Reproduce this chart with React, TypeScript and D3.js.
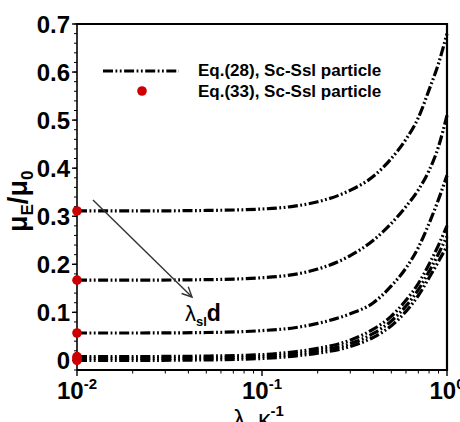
import * as d3 from "d3"

// lambda_el * kappa^-1 sample points
const xs = [0.01, 0.02, 0.05, 0.1, 0.15, 0.2, 0.3, 0.4, 0.5, 0.6, 0.7, 0.8, 0.9, 1.0]

// Eq.(28) curves, one per lambda_sl*d
const eq28a = [0.311, 0.311, 0.312, 0.315, 0.321, 0.33, 0.354, 0.383, 0.42, 0.46, 0.505, 0.563, 0.618, 0.68]
const eq28b = [0.167, 0.167, 0.168, 0.172, 0.179, 0.19, 0.218, 0.25, 0.285, 0.32, 0.355, 0.395, 0.445, 0.51]
const eq28c = [0.057, 0.057, 0.058, 0.062, 0.068, 0.077, 0.097, 0.12, 0.155, 0.192, 0.235, 0.285, 0.335, 0.385]
const eq28d = [0.008, 0.008, 0.009, 0.012, 0.018, 0.025, 0.042, 0.065, 0.092, 0.125, 0.16, 0.2, 0.24, 0.28]
const eq28e = [0.004, 0.004, 0.005, 0.008, 0.013, 0.02, 0.035, 0.056, 0.082, 0.113, 0.147, 0.185, 0.222, 0.258]
const eq28f = [0.0, 0.0, 0.001, 0.004, 0.009, 0.015, 0.029, 0.048, 0.072, 0.102, 0.135, 0.172, 0.206, 0.238]

// Eq.(33) values at lambda_el*kappa^-1 = 0.01
const eq33x = [0.01, 0.01, 0.01, 0.01, 0.01, 0.01]
const eq33y = [0.311, 0.167, 0.057, 0.008, 0.004, 0.0]

const yTicks = [0, 0.1, 0.2, 0.3, 0.4, 0.5, 0.6, 0.7]
const yTickLabels = ["0", "0.1", "0.2", "0.3", "0.4", "0.5", "0.6", "0.7"]
const xTicks = [0.01, 0.1, 1]
const xTickExps = ["-2", "-1", "0"]

const W = 460
const H = 422
const L = 77, R = 447, T = 24, B = 370
const FONT = "Arial, 'Liberation Sans', sans-serif"
const DASH = "10,2.5,1.8,2.5,1.8,2.5"
const RED = "#cc0000"

export default function App() {
  const x = d3.scaleLog().domain([0.01, 1]).range([L, R])
  const y = d3.scaleLinear().domain([-0.02, 0.7]).range([B, T])

  const line = d3.line<number>()
    .x((_, i) => x(xs[i]))
    .y(d => y(d))
    .curve(d3.curveMonotoneX)

  const curves = [eq28a, eq28b, eq28c, eq28d, eq28e, eq28f]

  const yMinor = d3.range(-0.02, 0.7001, 0.02)
  const xMinor: number[] = []
  ;[0.01, 0.1].forEach(dec => {
    for (let k = 2; k <= 9; k++) xMinor.push(dec * k)
  })

  // arrow showing increasing lambda_sl*d
  const ax1 = 93, ay1 = 200, ax2 = 192, ay2 = 297
  const ang = Math.atan2(ay2 - ay1, ax2 - ax1)
  const head = [ang + Math.PI - 0.45, ang + Math.PI + 0.45].map(a => [ax2 + 11 * Math.cos(a), ay2 + 11 * Math.sin(a)])

  return (
    <svg width={W} height={H} style={{ position: "absolute", left: 0, top: 0, background: "#fff" }} fontFamily={FONT}>
      <rect x={0} y={0} width={W} height={H} fill="#fff" />

      {/* curves */}
      {curves.map((c, i) => (
        <path key={i} d={line(c) || ""} fill="none" stroke="#000" strokeWidth={3.2} strokeDasharray={DASH} />
      ))}

      {/* frame */}
      <line x1={L} x2={R} y1={T} y2={T} stroke="#000" strokeWidth={1.8} />
      <line x1={R} x2={R} y1={T - 0.9} y2={B + 1} stroke="#000" strokeWidth={2.2} />
      <line x1={L} x2={R} y1={B} y2={B} stroke="#000" strokeWidth={2} />
      <line x1={L} x2={L} y1={T - 0.9} y2={B + 1} stroke="#000" strokeWidth={1.6} />

      {/* y ticks */}
      {yMinor.map((v, i) => (
        <line key={"ym" + i} x1={L} x2={L - 3} y1={y(v)} y2={y(v)} stroke="#000" strokeWidth={1} />
      ))}
      {yTicks.map((v, i) => (
        <g key={"yt" + i}>
          <line x1={L} x2={L - 5} y1={y(v)} y2={y(v)} stroke="#000" strokeWidth={1.4} />
          <text x={70} y={y(v)} dy="0.36em" textAnchor="end" fontSize={24} fontWeight="bold">{yTickLabels[i]}</text>
        </g>
      ))}

      {/* x ticks */}
      {xMinor.map((v, i) => (
        <line key={"xm" + i} x1={x(v)} x2={x(v)} y1={B} y2={B + 3.5} stroke="#000" strokeWidth={1} />
      ))}
      {xTicks.map((v, i) => (
        <g key={"xt" + i}>
          <line x1={x(v)} x2={x(v)} y1={B} y2={B + 6} stroke="#000" strokeWidth={1.4} />
          <text x={x(v)} y={399} textAnchor="middle" fontWeight="bold">
            <tspan fontSize={24}>10</tspan>
            <tspan fontSize={15} dy={-10}>{xTickExps[i]}</tspan>
          </text>
        </g>
      ))}

      {/* Eq.(33) points */}
      {eq33y.map((v, i) => (
        <circle key={"p" + i} cx={x(eq33x[i])} cy={y(v)} r={4.8} fill={RED} />
      ))}

      {/* arrow */}
      <line x1={ax1} y1={ay1} x2={ax2} y2={ay2} stroke="#333" strokeWidth={1.4} />
      <polyline points={`${head[0][0]},${head[0][1]} ${ax2},${ay2} ${head[1][0]},${head[1][1]}`} fill="none" stroke="#333" strokeWidth={1.4} />
      <text x={185} y={321}>
        <tspan fontSize={22}>λ</tspan>
        <tspan fontSize={13} fontWeight="bold" dy={5}>sl</tspan>
        <tspan fontSize={23} fontWeight="bold" dy={-5}>d</tspan>
      </text>

      {/* legend */}
      <line x1={103} x2={179} y1={71} y2={71} stroke="#000" strokeWidth={3.2} strokeDasharray={DASH} />
      <text x={198} y={76} fontSize={17} fontWeight="bold">Eq.(28), Sc-Ssl particle</text>
      <circle cx={142} cy={91} r={4.8} fill={RED} />
      <text x={198} y={97} fontSize={17} fontWeight="bold">Eq.(33), Sc-Ssl particle</text>

      {/* axis titles */}
      <text transform="translate(27,232) rotate(-90)" fontSize={27} fontWeight="bold">
        <tspan>μ</tspan>
        <tspan fontSize={17} dy={6}>E</tspan>
        <tspan dy={-6}>/μ</tspan>
        <tspan fontSize={17} dy={6}>0</tspan>
      </text>
      <text x={233} y={428} fontSize={25}>
        <tspan>λ</tspan>
        <tspan fontSize={15} fontWeight="bold" dy={6}>el</tspan>
        <tspan dy={-6}>κ</tspan>
        <tspan fontSize={15} fontWeight="bold" dy={-12}>-1</tspan>
      </text>
    </svg>
  )
}
